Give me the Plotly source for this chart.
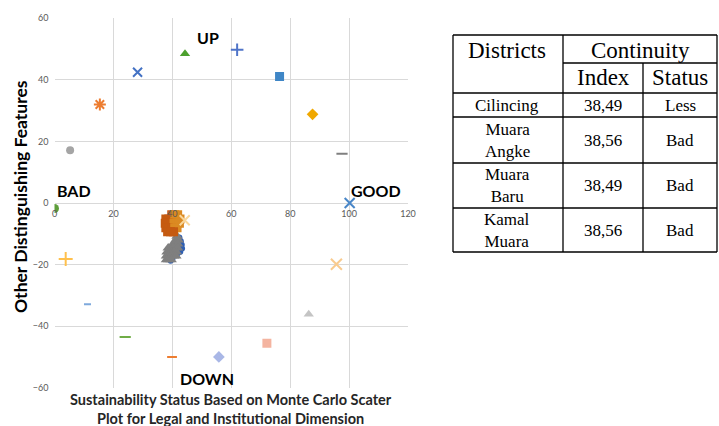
import plotly.graph_objects as go

# Outlying scatter points (one per scenario)
out_x = [0.0, 5.3, 15.4, 28.2, 44.3, 62.0, 76.4, 87.6, 97.6, 100.2,
         95.7, 86.3, 72.1, 55.8, 39.9, 24.0, 11.2, 3.8]
out_y = [-1.8, 17.1, 32.0, 42.5, 48.5, 49.8, 41.1, 28.8, 16.0, 0.0,
         -19.9, -36.1, -45.6, -50.0, -50.0, -43.5, -32.9, -18.2]

# Monte Carlo cluster around the index value
mc_orange_x = [39.8, 40.8, 41.8,
               37.8, 38.8, 39.8, 40.8, 41.8, 42.6,
               37.6, 38.6, 39.6, 40.6, 41.6, 42.4,
               37.8, 38.8, 39.8, 40.8, 41.6,
               38.4, 39.4, 40.4]
mc_orange_y = [-3.8, -3.8, -3.8,
               -5.2, -5.2, -5.2, -5.2, -5.2, -5.2,
               -6.6, -6.6, -6.6, -6.6, -6.6, -6.6,
               -8.0, -8.0, -8.0, -8.0, -8.0,
               -9.3, -9.3, -9.3]
mc_gray_x = [41.6, 41.2, 42.0, 40.2, 41.0, 41.8,
             38.6, 39.4, 40.2, 41.0, 41.8,
             38.2, 39.0, 39.8, 40.6, 41.4,
             38.0, 38.8, 39.6, 40.4, 41.2,
             38.0, 38.8, 39.6]
mc_gray_y = [-10.8, -12.0, -12.0, -13.3, -13.3, -13.3,
             -14.6, -14.6, -14.6, -14.6, -14.6,
             -15.9, -15.9, -15.9, -15.9, -15.9,
             -17.2, -17.2, -17.2, -17.2, -17.2,
             -18.4, -18.4, -18.4]
mc_blue_x = [42.4, 42.9, 43.2, 43.3, 42.7, 41.9, 40.0, 39.4]
mc_blue_y = [-11.2, -12.4, -13.6, -14.8, -15.8, -16.3, -18.3, -18.8]
mc_extra_x = [44.2]
mc_extra_y = [-5.6]

# Table contents
districts = ["Cilincing", "Muara<br>Angke", "Muara<br>Baru", "Kamal<br>Muara"]
index_values = ["38,49", "38,56", "38,49", "38,56"]
status_values = ["Less", "Bad", "Bad", "Bad"]

# marker styles for the outlying points (symbol, colour, size)
out_styles = [
    ("circle", "#5E9E3A", 9), ("circle", "#A5A5A5", 8),
    ("asterisk-open", "#ED7D31", 10), ("x-thin-open", "#4472C4", 9),
    ("triangle-up", "#4CA02E", 9), ("cross-thin-open", "#4F74C8", 9),
    ("square", "#3F86C6", 9), ("diamond", "#F0A800", 9), ("line-ew-open", "#7F7F7F", 8),
    ("x-thin-open", "#4A87C8", 10), ("x-thin-open", "#F9CB8F", 11),
    ("triangle-up", "#C4C4C4", 9), ("square", "#F4B4A0", 9), ("diamond", "#A9B7E6", 9),
    ("line-ew-open", "#ED7D31", 7), ("line-ew-open", "#70AD47", 8),
    ("line-ew-open", "#7EA9DC", 5), ("cross-thin-open", "#FFC04D", 10),
]

W, H = 719, 426


def px(x):
    return x / W


def py(y):
    return 1 - y / H


def label(fig, text, x, y, font, **kw):
    fig.add_annotation(text=text, x=px(x), y=py(y), xref="paper", yref="paper",
                       xanchor="center", yanchor="middle", showarrow=False,
                       font=font, **kw)


fig = go.Figure()

for (sym, col, size), x, y in zip(out_styles, out_x, out_y):
    open_sym = sym.endswith("open")
    fig.add_trace(go.Scatter(
        x=[x], y=[y], mode="markers",
        marker=dict(symbol=sym, size=size, color=col,
                    line=dict(color=col, width=2 if open_sym else 0)),
    ))

fig.add_trace(go.Scatter(x=mc_blue_x, y=mc_blue_y, mode="markers",
                         marker=dict(symbol="circle", size=6, color="#2F5FB3")))
fig.add_trace(go.Scatter(x=mc_gray_x, y=mc_gray_y, mode="markers",
                         marker=dict(symbol="triangle-up", size=10, color="#7F7F7F")))
orange_cols = ["#C55A11" if x < 40.5 else "#DB8A22" for x in mc_orange_x]
fig.add_trace(go.Scatter(x=mc_orange_x, y=mc_orange_y, mode="markers",
                         marker=dict(symbol="square", size=9, color=orange_cols)))
fig.add_trace(go.Scatter(x=mc_extra_x, y=mc_extra_y, mode="markers",
                         marker=dict(symbol="x-thin-open", size=10, color="#F9D79B",
                                     line=dict(color="#F9D79B", width=2))))

grid = "#D9D9D9"
tickfont = dict(family="Lato", size=9, color="#595959")

fig.update_xaxes(
    range=[0, 120], dtick=20, domain=[px(54.5), px(408)],
    showgrid=True, gridcolor=grid, gridwidth=1, zeroline=False,
    showline=False, ticks="", tickfont=tickfont, automargin=False,
    anchor="free", position=py(202.7), ticklabelstandoff=4,
)
fig.update_yaxes(
    range=[-60, 60], dtick=20, domain=[py(387.7), py(18.3)],
    showgrid=True, gridcolor=grid, gridwidth=1, zeroline=True,
    zerolinecolor=grid, zerolinewidth=1, automargin=False,
    showline=False, ticks="", tickfont=tickfont, ticklabelstandoff=5,
)

# quadrant labels
lab_font = dict(family="Lato", size=16, color="#000000")
for text, x, y in [("UP", 208, 37), ("BAD", 74, 190), ("GOOD", 376, 190), ("DOWN", 207, 378)]:
    label(fig, f"<b>{text}</b>", x, y, lab_font)

# axis titles
label(fig, "<b>Other Distinguishing Features</b>", 20, 197,
      dict(family="Lato", size=17.5, color="#000000"), textangle=-90)
label(fig, "<b>Sustainability Status Based on Monte Carlo Scater<br>"
           "Plot for Legal and Institutional Dimension</b>", 231, 409,
      dict(family="Lato", size=14.5, color="#262626"))

# table grid
tl, c1, c2, tr = 453, 563, 643, 717
row_lines = [35, 93, 117, 163, 208, 252]
line = dict(color="#000000", width=1.3)
for yl in row_lines:
    fig.add_shape(type="line", xref="paper", yref="paper",
                  x0=px(tl), x1=px(tr), y0=py(yl), y1=py(yl), line=line)
fig.add_shape(type="line", xref="paper", yref="paper",
              x0=px(c1), x1=px(tr), y0=py(63), y1=py(63), line=line)
for xl in [tl, c1, tr]:
    fig.add_shape(type="line", xref="paper", yref="paper",
                  x0=px(xl), x1=px(xl), y0=py(35), y1=py(252), line=line)
fig.add_shape(type="line", xref="paper", yref="paper",
              x0=px(c2), x1=px(c2), y0=py(63), y1=py(252), line=line)

serif_h = dict(family="Liberation Serif", size=23, color="#000000")
serif_b = dict(family="Liberation Serif", size=17, color="#000000")
for text, x, y in [("Districts", 507, 50), ("Continuity", 640, 50),
                   ("Index", 603, 78), ("Status", 680, 78)]:
    label(fig, text, x, y, serif_h)

row_mid = [(row_lines[i + 1] + row_lines[i + 2]) / 2 for i in range(4)]
for d, iv, st, ym in zip(districts, index_values, status_values, row_mid):
    label(fig, d, 507, ym, serif_b)
    label(fig, iv, 603, ym, serif_b)
    label(fig, st, 680, ym, serif_b)

fig.update_layout(
    width=W, height=H,
    margin=dict(l=0, r=0, t=0, b=0, autoexpand=False),
    plot_bgcolor="white", paper_bgcolor="white",
    showlegend=False,
)

fig.write_html("out.html", config={"displayModeBar": False},
               post_script="document.body.style.margin='0';")
